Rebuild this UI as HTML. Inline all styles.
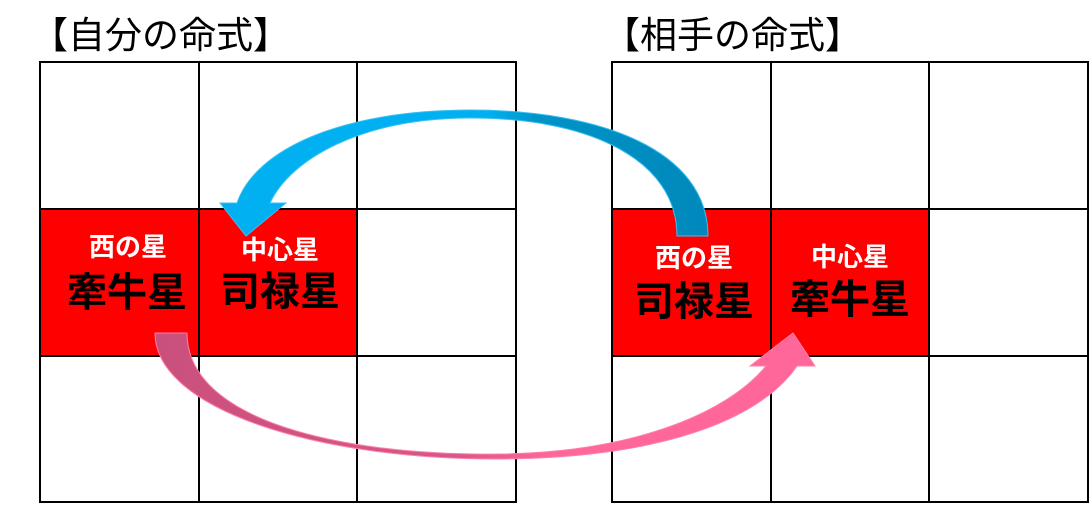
<!DOCTYPE html>
<html><head><meta charset="utf-8"><style>
html,body{margin:0;padding:0;background:#fff;}
body{width:1090px;height:507px;position:relative;overflow:hidden;font-family:"Liberation Sans","Noto Sans CJK JP",sans-serif;}
</style></head><body>
<svg width="1090" height="507" viewBox="0 0 1090 507" xmlns="http://www.w3.org/2000/svg" style="position:absolute;left:0;top:0">
<defs>
<linearGradient id="bl" x1="0" y1="0" x2="1" y2="0"><stop offset="0.55" stop-color="#00b0f0"/><stop offset="0.65" stop-color="#0094c8"/><stop offset="1" stop-color="#0088bb"/></linearGradient>
<linearGradient id="pk" x1="0" y1="0" x2="1" y2="0"><stop offset="0" stop-color="#c9507c"/><stop offset="0.45" stop-color="#d8568a"/><stop offset="0.6" stop-color="#ff6699"/><stop offset="1" stop-color="#ff6699"/></linearGradient>
</defs>
<g font-family="Liberation Sans, Noto Sans CJK JP, sans-serif">
<text x="31" y="48" font-size="37" fill="#000">【自分の命式】</text>
<text x="603" y="48" font-size="37" fill="#000">【相手の命式】</text>
</g>
<rect x="40" y="209" width="317" height="147" fill="#ff0000"/>
<rect x="612" y="209" width="317" height="147" fill="#ff0000"/>
<g stroke="#000" stroke-width="2" fill="none">
<rect x="40" y="62" width="476" height="440"/>
<line x1="199" y1="62" x2="199" y2="502"/><line x1="357" y1="62" x2="357" y2="502"/>
<line x1="40" y1="209" x2="516" y2="209"/><line x1="40" y1="356" x2="516" y2="356"/>
<rect x="612" y="62" width="476" height="440"/>
<line x1="771" y1="62" x2="771" y2="502"/><line x1="929" y1="62" x2="929" y2="502"/>
<line x1="612" y1="209" x2="1088" y2="209"/><line x1="612" y1="356" x2="1088" y2="356"/>
</g>
<g font-family="Liberation Sans, Noto Sans CJK JP, sans-serif" font-weight="bold" text-anchor="middle">
<text x="128" y="256" font-size="26" fill="#fff">西の星</text>
<text x="127" y="306" font-size="40" fill="#000">牽牛星</text>
<text x="280" y="259" font-size="26" fill="#fff">中心星</text>
<text x="280" y="305" font-size="40" fill="#000">司禄星</text>
<text x="694" y="267" font-size="26" fill="#fff">西の星</text>
<text x="694" y="315" font-size="40" fill="#000">司禄星</text>
<text x="850" y="266" font-size="26" fill="#fff">中心星</text>
<text x="850" y="313" font-size="40" fill="#000">牽牛星</text>
</g>
<path d="M708,236 C708,150 600,110 471,110 C340,110 255,150 237,203 L220,203 L246,236 L286,203 L270,203 C290,160 360,118 471,118 C590,118 677,160 677,236 Z" fill="url(#bl)" stroke="#3cc0f0" stroke-width="1"/>
<path d="M155,333 C155,410 320,460 500,459 C660,458 760,420 797,366 L815,366 L793,333 L750,366 L766,366 C730,410 640,452 500,454 C340,456 187,420 187,333 Z" fill="url(#pk)" stroke="#ff80a8" stroke-width="1"/>
</svg>
</body></html>
